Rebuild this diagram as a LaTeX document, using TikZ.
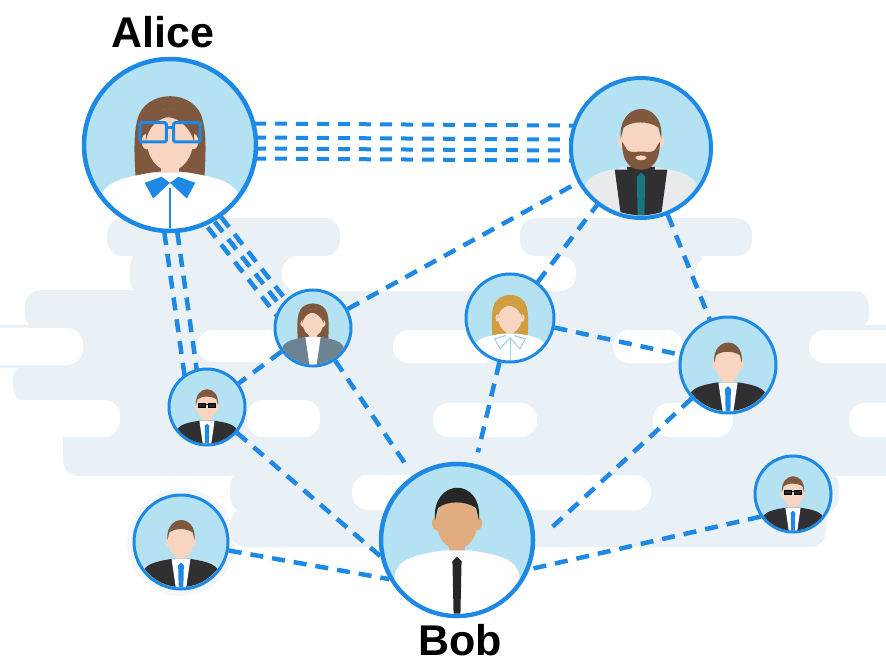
\documentclass[tikz,border=0pt]{standalone}
\usepackage{fontspec}
\setmainfont{Liberation Sans}
\usetikzlibrary{calc}

\definecolor{netblue}{RGB}{30,136,229}
\definecolor{avatarbg}{RGB}{180,226,243}
\definecolor{cloud}{RGB}{234,241,246}
\definecolor{skin}{RGB}{247,213,192}
\definecolor{bobskin}{RGB}{224,172,128}
\definecolor{brownhair}{RGB}{128,88,62}
\definecolor{blondhair}{RGB}{206,158,64}
\definecolor{darkhair}{RGB}{38,38,38}
\definecolor{suit}{RGB}{48,48,50}
\definecolor{greysuit}{RGB}{108,132,146}
\definecolor{coat}{RGB}{232,234,235}
\definecolor{beardtie}{RGB}{24,120,125}
\definecolor{collarblue}{RGB}{150,208,238}

\pgfdeclarelayer{bg}
\pgfdeclarelayer{edges}
\pgfsetlayers{bg,edges,main}

\tikzstyle{person} = [circle, draw=netblue, fill=avatarbg, inner sep=0pt]
\tikzstyle{link} = [draw=netblue, line width=4.5pt, dash pattern=on 13pt off 9pt]
\tikzstyle{tag} = [inner sep=0pt, font=\fontsize{43}{50}\selectfont\bfseries]

% avatar parts, drawn in a unit circle with y pointing up
\tikzset{
  pics/torso/.style n args={2}{code={
    \fill[#1] (-0.1,-0.32) rectangle (0.1,0.02);
    \fill[#2] (-0.85,-1.2) -- (-0.82,-0.48) .. controls (-0.78,-0.28) and (-0.58,-0.22) .. (-0.2,-0.16)
      -- (0.2,-0.16) .. controls (0.58,-0.22) and (0.78,-0.28) .. (0.82,-0.48) -- (0.85,-1.2) -- cycle;
  }},
  pics/vneck/.style n args={2}{code={
    \fill[#1] (-0.2,-0.16) -- (0.2,-0.16) -- (0.05,-1.2) -- (-0.05,-1.2) -- cycle;
    \fill[#2] (0,-0.24) -- (0.06,-0.3) -- (0.045,-1.0) -- (0,-1.2) -- (-0.045,-1.0) -- (-0.06,-0.3) -- cycle;
  }},
  pics/face/.style={code={
    \fill[#1] (-0.27,0.2) ellipse [x radius=0.06, y radius=0.09];
    \fill[#1] (0.27,0.2) ellipse [x radius=0.06, y radius=0.09];
    \fill[#1] (0,0.22) ellipse [x radius=0.27, y radius=0.36];
  }},
  pics/shorthair/.style={code={
    \fill[#1] (-0.29,0.24) .. controls (-0.34,0.8) and (0.34,0.82) .. (0.29,0.24)
      -- (0.25,0.4) .. controls (0.12,0.5) and (-0.14,0.5) .. (-0.25,0.4) -- cycle;
  }},
  pics/longhair/.style={code={
    \fill[#1] (-0.4,-0.22) .. controls (-0.42,0.1) and (-0.42,0.3) .. (-0.38,0.45)
      .. controls (-0.3,0.82) and (0.3,0.82) .. (0.38,0.45)
      .. controls (0.42,0.3) and (0.42,0.1) .. (0.4,-0.22)
      .. controls (0.25,-0.12) and (-0.25,-0.12) .. cycle;
  }},
  pics/fringe/.style={code={
    \fill[#1] (-0.28,0.2) .. controls (-0.3,0.7) and (0.3,0.72) .. (0.28,0.2)
      .. controls (0.22,0.4) and (0.05,0.5) .. (-0.05,0.48)
      .. controls (-0.18,0.44) and (-0.26,0.34) .. cycle;
  }},
  pics/shades/.style={code={
    \draw[line width=0.8pt, fill=#1] (-0.23,0.18) rectangle (-0.03,0.3) (0.03,0.18) rectangle (0.23,0.3);
    \draw[line width=0.8pt] (-0.03,0.26) -- (0.03,0.26);
  }},
  pics/beard/.style n args={2}{code={
    \fill[#1] (-0.27,0.2) .. controls (-0.27,-0.1) and (-0.15,-0.2) .. (0,-0.2)
      .. controls (0.15,-0.2) and (0.27,-0.1) .. (0.27,0.2) -- (0.22,0.12)
      .. controls (0.18,0.02) and (0.1,0.06) .. (0,0.06)
      .. controls (-0.1,0.06) and (-0.18,0.02) .. (-0.22,0.12) -- cycle;
    \fill[#2] (0,-0.03) ellipse [x radius=0.08, y radius=0.035];
  }}
}

\begin{document}
\begin{tikzpicture}[x=1pt, y=-1pt]
  \useasboundingbox (0,0) rectangle (886,666);

  % people
  \node[person, minimum size=172pt, line width=4.5pt] (alice) at (170,145) {};
  \node[person, minimum size=140pt, line width=4pt] (beard) at (641,148) {};
  \node[person, minimum size=76pt, line width=3pt] (woman) at (313,328) {};
  \node[person, minimum size=88pt, line width=3pt] (blonde) at (510,318) {};
  \node[person, minimum size=96pt, line width=3pt] (rightman) at (728,365) {};
  \node[person, minimum size=76pt, line width=3pt] (leftman) at (207,407) {};
  \node[person, minimum size=94pt, line width=3pt] (blman) at (181,542) {};
  \node[person, minimum size=152pt, line width=4.5pt] (bob) at (457,540) {};
  \node[person, minimum size=76pt, line width=3pt] (brman) at (793,494) {};

  \node[tag] (alicename) at (163,32) {Alice};
  \node[tag] (bobname) at (460,640) {Bob};

  % cloud band
  \begin{pgfonlayer}{bg}
    \begin{scope}
      \clip (0,0) rectangle (886,666);
      \fill[cloud!60] (blman.center) circle (54pt);
      \foreach \xa/\ya/\xb/\yb in {107/218/340/256, 520/218/752/256, 130/250/300/296,
          560/250/705/296, 25/290/869/330, -20/325/906/368, 13/363/906/403,
          63/398/906/476, 230/470/839/513, 230/508/826/547}
        \fill[cloud, rounded corners=16pt] (\xa,\ya) rectangle (\xb,\yb);
      \foreach \xa/\ya/\xb/\yb in {282/256/576/291, 696/256/920/291, -30/328/83/365,
          197/330/283/362, 393/330/497/363, 613/330/683/363, 809/330/920/363,
          -30/400/120/437, 247/400/320/437, 433/403/537/437, 653/403/733/437,
          849/403/920/437, 352/475/651/510}
        \fill[white, rounded corners=16pt] (\xa,\ya) rectangle (\xb,\yb);
    \end{scope}
  \end{pgfonlayer}

  % links
  \begin{pgfonlayer}{edges}
    \foreach \o in {22pt,8pt,-3pt,-13pt}
      \draw[link, line width=4pt, dash pattern=on 12pt off 9pt] ([yshift=\o]alice.center) -- ([yshift=\o]beard.center);
    \foreach \o in {-18pt,-5pt}
      \draw[link] ([xshift=\o]alice.center) -- ([xshift=\o]leftman.center);
    \foreach \dx/\dy in {-16.5pt/-12.9pt, -9.5pt/-7.4pt, -3.2pt/-2.5pt}
      \draw[link] ([xshift=\dx,yshift=\dy]alice.center) -- ([xshift=\dx,yshift=\dy]woman.center);
    \draw[link] (woman) -- (beard);
    \draw[link] (woman) -- (leftman);
    \draw[link, shorten >=14pt] (woman) -- (bob);
    \draw[link] (blonde) -- (beard);
    \draw[link] (blonde) -- (rightman);
    \draw[link, shorten >=12pt] (blonde) -- (bob);
    \draw[link] (beard) -- (rightman);
    \draw[link, shorten >=16pt] (rightman) -- (bob.358);
    \draw[link] (leftman) -- (bob.192);
    \draw[link] (blman) -- (bob.210);
    \draw[link] (brman.215) -- (bob.338);
  \end{pgfonlayer}

  % Alice
  \begin{scope}[shift={(alice.center)}, x=86pt, y=86pt]
    \clip (0,0) circle (0.97);
    \begin{scope}[shift={(0,-0.16)}, scale=1.4]
      \pic {longhair=brownhair};
      \pic {torso={skin}{white}};
      \fill[netblue] (-0.07,-0.15) -- (-0.21,-0.2) -- (-0.14,-0.33) -- (0,-0.2) -- cycle;
      \fill[netblue] (0.07,-0.15) -- (0.21,-0.2) -- (0.14,-0.33) -- (0,-0.2) -- cycle;
      \draw[netblue, line width=2.5pt] (0,-0.24) -- (0,-1);
      \pic {face=skin};
      \pic {fringe=brownhair};
      \draw[netblue, line width=3pt, rounded corners=1.5pt] (-0.25,0.14) rectangle (-0.03,0.3) (0.03,0.14) rectangle (0.25,0.3);
      \draw[netblue, line width=2.5pt] (-0.03,0.26) -- (0.03,0.26);
    \end{scope}
  \end{scope}

  % bearded man
  \begin{scope}[shift={(beard.center)}, x=70pt, y=70pt]
    \clip (0,0) circle (0.96);
    \begin{scope}[shift={(0,-0.11)}, scale=1.25]
      \pic {torso={skin}{coat}};
      \fill[suit] (-0.3,-0.16) -- (0.3,-0.16) -- (0.16,-1.2) -- (-0.16,-1.2) -- cycle;
      \pic {vneck={suit}{beardtie}};
      \pic {face=skin};
      \pic {shorthair=brownhair};
      \pic {beard={brownhair}{skin}};
    \end{scope}
  \end{scope}

  % woman in grey
  \begin{scope}[shift={(woman.center)}, x=38pt, y=38pt]
    \clip (0,0) circle (0.96);
    \begin{scope}[shift={(0,-0.08)}, scale=1.3]
      \pic {longhair=brownhair};
      \pic {torso={skin}{greysuit}};
      \pic {vneck={white}{white}};
      \pic {face=skin};
      \pic {fringe=brownhair};
    \end{scope}
  \end{scope}

  % blonde woman
  \begin{scope}[shift={(blonde.center)}, x=44pt, y=44pt]
    \clip (0,0) circle (0.96);
    \begin{scope}[shift={(0,-0.2)}, scale=1.25]
      \pic {longhair=blondhair};
      \pic {torso={skin}{white}};
      \draw[collarblue, line width=1pt] (-0.08,-0.16) -- (-0.28,-0.22) -- (-0.18,-0.4) -- (0,-0.2)
        -- (0.18,-0.4) -- (0.28,-0.22) -- (0.08,-0.16);
      \draw[collarblue, line width=1pt] (0,-0.2) -- (0,-1);
      \pic {face=skin};
      \pic {fringe=blondhair};
    \end{scope}
  \end{scope}

  % men in suits
  \foreach \who/\r/\glasses in {rightman/48/0, blman/47/0, leftman/38/1, brman/38/1} {
    \begin{scope}[shift={(\who.center)}, x=\r pt, y=\r pt]
      \clip (0,0) circle (0.96);
      \begin{scope}[shift={(0,-0.2)}, scale=1.05]
        \pic {torso={skin}{suit}};
        \pic {vneck={white}{netblue}};
        \pic {face=skin};
        \pic {shorthair=brownhair};
        \ifnum\glasses=1 \pic {shades=darkhair}; \fi
      \end{scope}
    \end{scope}
  }

  % Bob
  \begin{scope}[shift={(bob.center)}, x=76pt, y=76pt]
    \clip (0,0) circle (0.97);
    \begin{scope}[shift={(0,0.02)}]
      \pic {torso={bobskin}{white}};
      \pic {vneck={white}{darkhair}};
      \pic {face=bobskin};
      \pic {shorthair=darkhair};
    \end{scope}
  \end{scope}

\end{tikzpicture}
\end{document}
